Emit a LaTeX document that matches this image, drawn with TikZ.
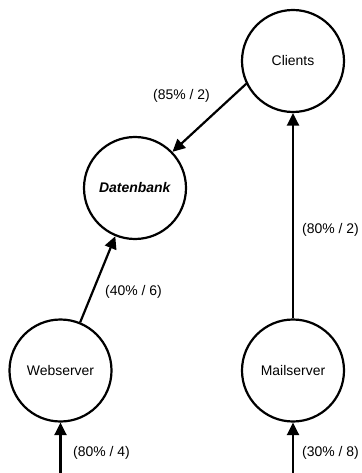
\documentclass[tikz,border=0pt]{standalone}
\usepackage{fontspec}
\setmainfont{Liberation Sans}
\usetikzlibrary{arrows.meta}
\begin{document}
\begin{tikzpicture}[x=1bp,y=-1bp,
	knoten/.style={circle, draw, line width=2.2bp, minimum size=102bp, inner sep=0pt, font=\fontsize{14}{16}\selectfont},
	kante/.style={line width=2.2bp, -{Triangle[length=12.5bp,width=12bp]}},
	gewicht/.style={font=\fontsize{14}{16}\selectfont, inner sep=0pt}]
	\useasboundingbox (0,0) rectangle (361,473);
	% die Knoten
	\node[knoten] (clients) at (293,61) {Clients};
	\node[knoten] (datenbank) at (135,188) {\textbf{\textit{Datenbank}}};
	\node[knoten] (webserver) at (60.5,370.5) {Webserver};
	\node[knoten] (mailserver) at (293,370.5) {Mailserver};
	\coordinate (webein) at (60.5,473);
	\coordinate (mailein) at (293,473);
	% die Kanten
	\draw[kante] (clients.206) -- (datenbank.44);
	\draw[kante] (webserver) -- (datenbank);
	\draw[kante] (mailserver) -- (clients);
	\draw[kante] (webein) -- (webserver);
	\draw[kante] (mailein) -- (mailserver);
	% die Gewichte
	\node[gewicht] (g1) at (181.5,96) {(85\% / 2)};
	\node[gewicht] (g2) at (330.5,230) {(80\% / 2)};
	\node[gewicht] (g3) at (133.5,291.5) {(40\% / 6)};
	\node[gewicht] (g4) at (101.5,453) {(80\% / 4)};
	\node[gewicht] (g5) at (330.5,453) {(30\% / 8)};
\end{tikzpicture}
\end{document}
